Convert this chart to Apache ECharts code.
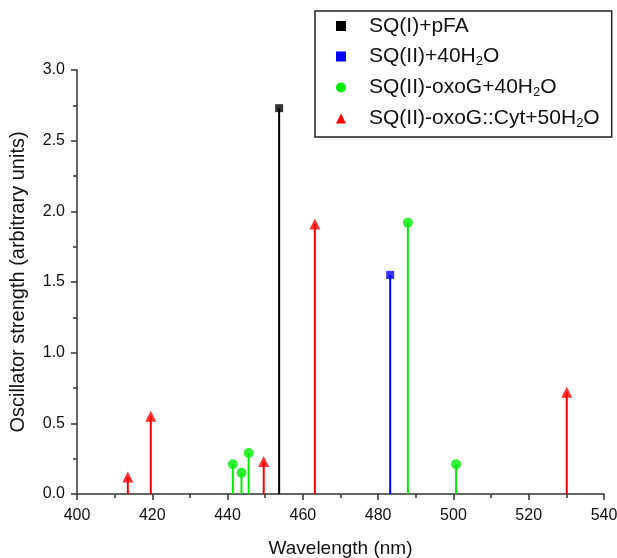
<!DOCTYPE html>
<html>
<head>
<meta charset="utf-8">
<script src="https://cdn.jsdelivr.net/npm/echarts@6/dist/echarts.min.js"></script>
<style>
  html, body { margin: 0; padding: 0; background: #fff; }
  #chart-container { width: 617px; height: 558px; }
</style>
</head>
<body>
<div id="chart-container"></div>
<script>
// wavelength (nm) and oscillator strength for each system
var pfaWl = [453.7];
var pfaF = [2.73];
var waterWl = [483.2];
var waterF = [1.55];
var oxoWl = [441.4, 443.7, 445.6, 487.9, 500.7];
var oxoF = [0.21, 0.15, 0.29, 1.92, 0.21];
var cytWl = [413.5, 419.6, 449.6, 463.2, 530.1];
var cytF = [0.12, 0.55, 0.23, 1.91, 0.72];

var names = ['SQ(I)+pFA', 'SQ(II)+40H2O', 'SQ(II)-oxoG+40H2O', 'SQ(II)-oxoG::Cyt+50H2O'];
var colors = ['#000000', '#0000ff', '#00ee00', '#ff0000'];
var symbols = ['rect', 'rect', 'circle', 'triangle'];
var symbolSizes = [8, 8, 10, 11];

function pairs(xs, ys) {
    return xs.map(function (x, i) { return [x, ys[i]]; });
}

var sets = [pairs(pfaWl, pfaF), pairs(waterWl, waterF), pairs(oxoWl, oxoF), pairs(cytWl, cytF)];

var font = 'Liberation Sans, Arial, sans-serif';

var series = [];
sets.forEach(function (data, k) {
    // vertical stick from zero up to the value
    series.push({
        name: names[k],
        type: 'custom',
        data: data,
        renderItem: function (params, api) {
            var top = api.coord([api.value(0), api.value(1)]);
            var base = api.coord([api.value(0), 0]);
            return {
                type: 'line',
                shape: { x1: top[0], y1: top[1], x2: base[0], y2: base[1] },
                style: { stroke: colors[k], lineWidth: 2 }
            };
        },
        z: 2
    });
    series.push({
        name: names[k],
        type: 'scatter',
        data: data,
        symbol: symbols[k],
        symbolSize: symbolSizes[k],
        itemStyle: { color: colors[k] },
        z: 3
    });
});

var myChart = echarts.init(document.getElementById('chart-container'));

var option = {
    backgroundColor: '#fff',
    animation: false,
    grid: { left: 77, right: 13, top: 70, bottom: 64, outerBoundsMode: 'none', containLabel: false },
    legend: {
        orient: 'vertical',
        left: 315,
        top: 11,
        padding: [4, 12, 7, 21],
        itemGap: 8,
        itemWidth: 10,
        itemHeight: 10,
        borderColor: '#222',
        borderWidth: 1.5,
        borderRadius: 0,
        data: names.map(function (n, k) {
            return { name: n, icon: symbols[k], itemStyle: { color: colors[k] } };
        }),
        formatter: function (name) {
            return name.replace('H2O', 'H{sub|2}O');
        },
        textStyle: {
            fontFamily: font,
            fontSize: 21,
            lineHeight: 22,
            color: '#111',
            padding: [0, 0, 0, 18],
            rich: {
                sub: { fontFamily: font, fontSize: 13, lineHeight: 12, padding: [10, 0, 0, 0], color: '#111' }
            }
        }
    },
    xAxis: {
        type: 'value',
        min: 400,
        max: 540,
        interval: 20,
        name: 'Wavelength (nm)',
        nameLocation: 'middle',
        nameGap: 45,
        nameTextStyle: { fontFamily: font, fontSize: 19, color: '#111' },
        axisLine: { show: true, onZero: false, lineStyle: { color: '#333', width: 1.5 } },
        axisTick: { show: true, length: 6, lineStyle: { color: '#333', width: 1.5 } },
        minorTick: { show: true, splitNumber: 2, length: 4, lineStyle: { color: '#333', width: 1.5 } },
        axisLabel: { fontFamily: font, fontSize: 16, color: '#111', margin: 14 },
        splitLine: { show: false }
    },
    yAxis: {
        type: 'value',
        min: 0,
        max: 3,
        interval: 0.5,
        name: 'Oscillator strength (arbitrary units)',
        nameLocation: 'middle',
        nameGap: 49,
        nameTextStyle: { fontFamily: font, fontSize: 20, color: '#111' },
        axisLine: { show: true, lineStyle: { color: '#333', width: 1.5 } },
        axisTick: { show: true, length: 6, lineStyle: { color: '#333', width: 1.5 } },
        minorTick: { show: true, splitNumber: 2, length: 4, lineStyle: { color: '#333', width: 1.5 } },
        axisLabel: {
            fontFamily: font, fontSize: 16, color: '#111', margin: 12,
            formatter: function (v) { return v.toFixed(1); }
        },
        splitLine: { show: false }
    },
    series: series
};

myChart.setOption(option);
</script>
</body>
</html>
